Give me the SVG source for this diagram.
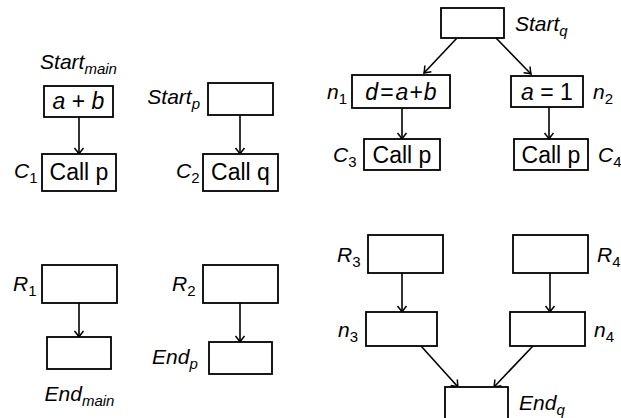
<svg xmlns="http://www.w3.org/2000/svg" width="621" height="418" viewBox="0 0 621 418">
<defs>
<marker id="ah" markerUnits="userSpaceOnUse" markerWidth="14" markerHeight="14" viewBox="-7 -7 14 14" refX="0" refY="0" orient="auto">
<path d="M-6,-4.5 Q-2,-1.2 0,0 Q-2,1.2 -6,4.5" fill="none" stroke="#000" stroke-width="1.5"/>
</marker>
</defs>
<style>
.b{fill:#fff;stroke:#000;stroke-width:1.8}
.c line{stroke:#000;stroke-width:1.6;marker-end:url(#ah)}
text{font-family:"Liberation Sans",Arial,sans-serif;fill:#000}
.t{font-size:23px;text-anchor:middle}
.l{font-size:21px;font-style:italic}
.s{font-size:15px}
.m{font-style:italic}
</style>
<g class="c" id="connectors">
<line x1="79" y1="117" x2="79" y2="154"/>
<line x1="240" y1="115" x2="240" y2="154"/>
<line x1="457" y1="38" x2="424" y2="73"/>
<line x1="496" y1="38" x2="531" y2="74"/>
<line x1="402" y1="108" x2="402" y2="139"/>
<line x1="549" y1="107" x2="549" y2="139"/>
<line x1="79" y1="303" x2="79" y2="337"/>
<line x1="240" y1="303" x2="240" y2="342"/>
<line x1="402" y1="273" x2="402" y2="312"/>
<line x1="550" y1="273" x2="550" y2="312"/>
<line x1="421" y1="346" x2="458" y2="387"/>
<line x1="533" y1="346" x2="494" y2="387"/>
</g>
<g id="start_main">
<rect class="b" x="44" y="86" width="69" height="31"/>
<text class="t" x="78.5" y="109"><tspan class="m">a</tspan> + <tspan class="m">b</tspan></text>
<text class="l" x="78.5" y="69" text-anchor="middle">Start<tspan class="s" dy="5">main</tspan></text>
</g>
<g id="c1">
<rect class="b" x="42" y="154" width="74" height="37"/>
<text class="t" x="79" y="180">Call p</text>
<text class="l" x="14" y="178">C<tspan class="s" dy="5" font-style="normal">1</tspan></text>
</g>
<g id="start_p">
<rect class="b" x="208" y="83" width="65" height="32"/>
<text class="l" x="200" y="104" text-anchor="end">Start<tspan class="s" dy="5">p</tspan></text>
</g>
<g id="c2">
<rect class="b" x="203" y="154" width="75" height="37"/>
<text class="t" x="240.5" y="180">Call q</text>
<text class="l" x="176" y="178">C<tspan class="s" dy="5" font-style="normal">2</tspan></text>
</g>
<g id="start_q">
<rect class="b" x="441" y="8" width="63" height="30"/>
<text class="l" x="515" y="31">Start<tspan class="s" dy="5">q</tspan></text>
</g>
<g id="n1">
<rect class="b" x="352" y="75" width="98" height="33"/>
<text class="t" x="401" y="100"><tspan class="m">d</tspan><tspan dx="2">=</tspan><tspan class="m" dx="2">a</tspan><tspan dx="1">+</tspan><tspan class="m" dx="1">b</tspan></text>
<text class="l" x="327" y="99">n<tspan class="s" dy="5" font-style="normal">1</tspan></text>
</g>
<g id="n2">
<rect class="b" x="511" y="76" width="72" height="31"/>
<text class="t" x="547" y="100"><tspan class="m">a</tspan> = 1</text>
<text class="l" x="593" y="99">n<tspan class="s" dy="5" font-style="normal">2</tspan></text>
</g>
<g id="c3">
<rect class="b" x="364" y="139" width="76" height="31"/>
<text class="t" x="402" y="163">Call p</text>
<text class="l" x="333" y="162">C<tspan class="s" dy="5" font-style="normal">3</tspan></text>
</g>
<g id="c4">
<rect class="b" x="514" y="139" width="74" height="31"/>
<text class="t" x="551" y="163">Call p</text>
<text class="l" x="598" y="162">C<tspan class="s" dy="5" font-style="normal">4</tspan></text>
</g>
<g id="r1">
<rect class="b" x="42" y="265" width="75" height="38"/>
<text class="l" x="13" y="291">R<tspan class="s" dy="5" font-style="normal">1</tspan></text>
</g>
<g id="end_main">
<rect class="b" x="47" y="337" width="64" height="32"/>
<text class="l" x="79.5" y="401" text-anchor="middle">End<tspan class="s" dy="5">main</tspan></text>
</g>
<g id="r2">
<rect class="b" x="203" y="265" width="75" height="38"/>
<text class="l" x="172" y="291">R<tspan class="s" dy="5" font-style="normal">2</tspan></text>
</g>
<g id="end_p">
<rect class="b" x="209" y="342" width="63" height="32"/>
<text class="l" x="152" y="364">End<tspan class="s" dy="5">p</tspan></text>
</g>
<g id="r3">
<rect class="b" x="368" y="235" width="75" height="38"/>
<text class="l" x="337" y="262">R<tspan class="s" dy="5" font-style="normal">3</tspan></text>
</g>
<g id="r4">
<rect class="b" x="513" y="235" width="75" height="38"/>
<text class="l" x="597" y="262">R<tspan class="s" dy="5" font-style="normal">4</tspan></text>
</g>
<g id="n3">
<rect class="b" x="366" y="312" width="71" height="34"/>
<text class="l" x="338" y="337">n<tspan class="s" dy="5" font-style="normal">3</tspan></text>
</g>
<g id="n4">
<rect class="b" x="510" y="312" width="75" height="34"/>
<text class="l" x="594" y="337">n<tspan class="s" dy="5" font-style="normal">4</tspan></text>
</g>
<g id="end_q">
<rect class="b" x="445" y="387" width="63" height="34"/>
<text class="l" x="519" y="410">End<tspan class="s" dy="5">q</tspan></text>
</g>
</svg>
